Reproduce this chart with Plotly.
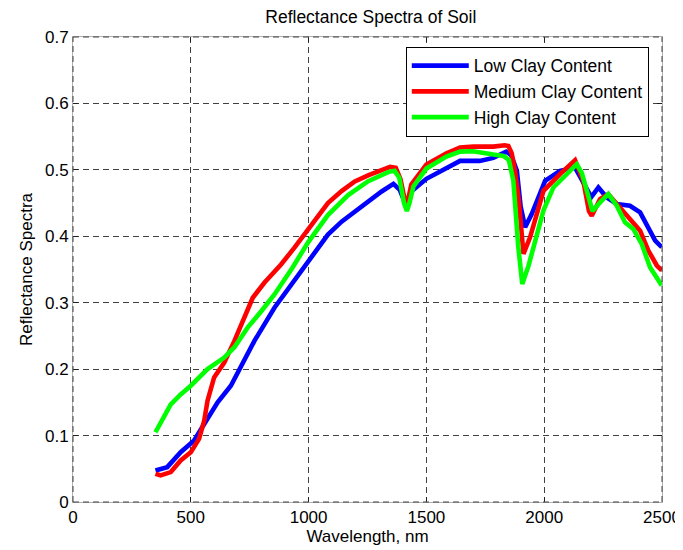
import plotly.graph_objects as go

# ---- data ----
low_wl = [350, 400, 457, 514, 557, 614, 670, 720, 770, 855, 1000, 1082, 1140, 1196, 1255, 1310, 1360,
          1387, 1412, 1436, 1500, 1585, 1643, 1726, 1784, 1839, 1860, 1884, 1900, 1919, 1947,
          2004, 2067, 2131, 2181, 2200, 2230, 2266, 2308, 2364, 2407, 2435, 2471, 2499]
low_val = [0.0475, 0.0525, 0.075, 0.0925, 0.1175, 0.150, 0.175, 0.2075, 0.2425, 0.2925, 0.3625,
           0.4025, 0.422, 0.4375, 0.453, 0.4675, 0.479, 0.470, 0.448, 0.4675, 0.4865, 0.5025, 0.5135, 0.5135,
           0.518, 0.5275, 0.522, 0.4985, 0.445, 0.4135, 0.4335, 0.4835, 0.4985, 0.5035, 0.4735,
           0.459, 0.4735, 0.4585, 0.4485, 0.446, 0.436, 0.416, 0.3935, 0.3835]

med_wl = [350, 372, 415, 457, 500, 535, 557, 571, 599, 642, 685, 720, 763, 812, 883, 940, 1000, 1082,
          1140, 1196, 1255, 1310, 1346, 1370, 1390, 1408, 1417, 1436, 1500, 1585, 1643, 1700, 1784, 1832,
          1848, 1862, 1876, 1892, 1912, 1940, 1997, 2067, 2131, 2166, 2190, 2202, 2237, 2272,
          2322, 2364, 2407, 2442, 2478, 2499]
med_val = [0.0425, 0.040, 0.045, 0.0625, 0.075, 0.095, 0.1225, 0.1525, 0.1875, 0.210, 0.2425,
           0.2725, 0.3075, 0.330, 0.3575, 0.383, 0.4125, 0.450, 0.468, 0.4825, 0.492, 0.500, 0.5045, 0.503, 0.486,
           0.455, 0.446, 0.478, 0.508, 0.525, 0.5335, 0.535, 0.535, 0.537, 0.536, 0.525, 0.4985,
           0.455, 0.3735, 0.3985, 0.4685, 0.4935, 0.5145, 0.4835, 0.438, 0.431, 0.456, 0.4635,
           0.4435, 0.426, 0.4085, 0.3785, 0.356, 0.3485]

high_wl = [350, 380, 415, 457, 500, 571, 642, 685, 741, 800, 855, 930, 1000, 1082, 1168, 1253, 1340, 1365,
           1385, 1405, 1417, 1428, 1445, 1500, 1585, 1643, 1698, 1784, 1827, 1850, 1869, 1890,
           1907, 1933, 1961, 1997, 2039, 2096, 2138, 2160, 2181, 2205, 2237, 2272, 2308, 2343,
           2378, 2414, 2449, 2499]
high_val = [0.105, 0.125, 0.147, 0.162, 0.175, 0.200, 0.2175, 0.233, 0.2625, 0.2875, 0.3125, 0.352, 0.392,
            0.432, 0.462, 0.483, 0.497, 0.4985, 0.488, 0.450, 0.438, 0.450, 0.475, 0.502, 0.520,
            0.5275, 0.528, 0.523, 0.521, 0.515, 0.484, 0.384, 0.328, 0.355, 0.394, 0.439, 0.4735,
            0.4935, 0.5085, 0.495, 0.466, 0.438, 0.451, 0.4635, 0.446, 0.421, 0.411, 0.3885,
            0.3535, 0.326]

series_names = ["Low Clay Content", "Medium Clay Content", "High Clay Content"]
series_colors = ["#0000ff", "#ff0000", "#00ff00"]
x_ticks = [0, 500, 1000, 1500, 2000, 2500]
y_ticks = [0, 0.1, 0.2, 0.3, 0.4, 0.5, 0.6, 0.7]

FONT = "Liberation Sans, Arial, sans-serif"
GRID = "#404040"
DASH = "6px,4px"

# the page body adds an 8px offset, so the figure is 8px smaller on each side
W, H = 675, 542

fig = go.Figure()
for wl, val, name, col in zip([low_wl, med_wl, high_wl], [low_val, med_val, high_val],
                              series_names, series_colors):
    fig.add_trace(go.Scatter(x=wl, y=val, mode="lines", name=name,
                             line=dict(color=col, width=4.6)))

axis_common = dict(
    automargin=False,
    showgrid=True, gridcolor=GRID, gridwidth=1, griddash=DASH,
    zeroline=False, showline=True, linecolor="#b0b0b0", linewidth=1, mirror="ticks",
    ticks="inside", ticklen=5, tickcolor="#202020", tickwidth=1,
    tickfont=dict(family=FONT, size=17, color="black"),
)

fig.update_xaxes(range=[0, 2500], tickvals=x_ticks, ticktext=[str(v) for v in x_ticks],
                 title=dict(text="Wavelength, nm", font=dict(family=FONT, size=17, color="black"),
                            standoff=3),
                 **axis_common)
fig.update_yaxes(range=[0, 0.7], tickvals=y_ticks, ticktext=["0"] + ["%.1f" % v for v in y_ticks[1:]],
                 title=dict(text="Reflectance Spectra", font=dict(family=FONT, size=17, color="black"),
                            standoff=8),
                 **axis_common)

# dashed plot border (MATLAB grid overlay on the box)
for x0, y0, x1, y1 in [(0, 0, 1, 0), (0, 1, 1, 1), (0, 0, 0, 1), (1, 0, 1, 1)]:
    fig.add_shape(type="line", xref="paper", yref="paper", x0=x0, y0=y0, x1=x1, y1=y1,
                  line=dict(color=GRID, width=1, dash=DASH), layer="above")

fig.update_layout(
    width=W, height=H,
    margin=dict(l=65, r=21, t=29, b=48, autoexpand=False),
    paper_bgcolor="white", plot_bgcolor="white",
    title=dict(text="Reflectance Spectra of Soil", x=0.5375, xanchor="center",
               y=1 - 9 / H, yanchor="middle", yref="container",
               font=dict(family=FONT, size=17.5, color="black")),
    legend=dict(x=0.565, y=0.979, xanchor="left", yanchor="top",
                bgcolor="white", bordercolor="black", borderwidth=1,
                font=dict(family=FONT, size=17.5, color="black"),
                tracegroupgap=0, itemwidth=57),
    showlegend=True,
)

fig.write_html("out.html")
